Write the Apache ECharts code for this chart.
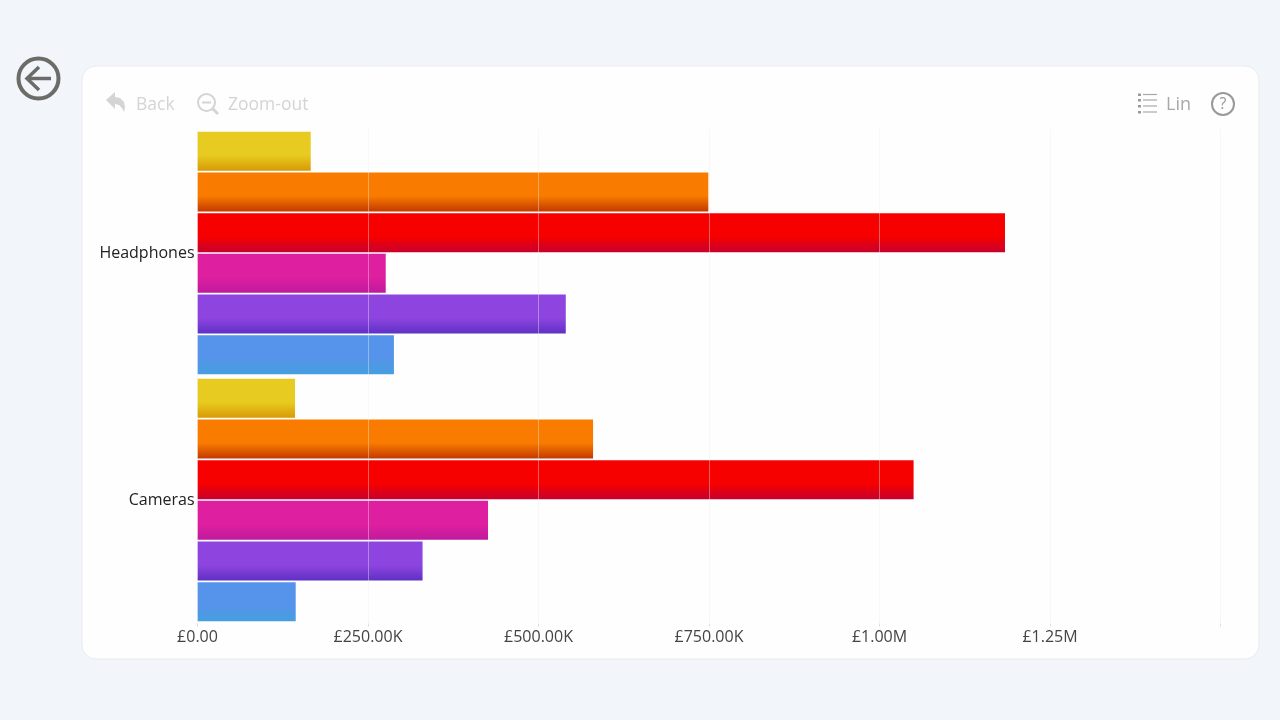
<!DOCTYPE html>
<html>
<head>
<meta charset="utf-8">
<title>Sales by product</title>
<script src="https://cdn.jsdelivr.net/npm/echarts@6/dist/echarts.min.js"></script>
<style>
  html, body { margin: 0; padding: 0; background: #f2f5f9; }
  #chart { width: 1280px; height: 720px; }
</style>
</head>
<body>
<div id="chart"></div>
<script>
// bottom to top, same as the y axis draws them
const categories = ['Cameras', 'Headphones'];

const blueValues = [144000, 288000];
const purpleValues = [330000, 540000];
const pinkValues = [426000, 276000];
const redValues = [1050000, 1184000];
const orangeValues = [580000, 749000];
const yellowValues = [143000, 166000];

const tickLabels = ['£0.00', '£250.00K', '£500.00K', '£750.00K', '£1.00M', '£1.25M', ''];

const uiFont = '"Open Sans", "Noto Sans", sans-serif';

function barFill(top, bottom) {
  return new echarts.graphic.LinearGradient(0, 0, 0, 1, [
    { offset: 0, color: top },
    { offset: 0.6, color: top },
    { offset: 1, color: bottom }
  ]);
}

function barSeries(name, data, top, bottom) {
  return {
    name: name,
    type: 'bar',
    data: data,
    barWidth: 39,
    barGap: '4.4%',
    itemStyle: { color: barFill(top, bottom) },
    silent: true
  };
}

const faint = '#d4d4d4';

const toolbar = [
  // card
  { type: 'rect', z: 0, shape: { x: 82, y: 66, width: 1177, height: 593, r: 14 },
    style: { fill: '#fefefe', stroke: '#e8ebef', lineWidth: 1 } },
  // back circle, top left
  { type: 'circle', shape: { cx: 38.5, cy: 78.5, r: 20 }, style: { fill: 'none', stroke: '#6b6b68', lineWidth: 4 } },
  { type: 'polyline', shape: { points: [[39, 67], [27, 78.5], [39, 90]] }, style: { fill: 'none', stroke: '#6b6b68', lineWidth: 3.5 } },
  { type: 'line', shape: { x1: 28, y1: 78.5, x2: 51, y2: 78.5 }, style: { stroke: '#6b6b68', lineWidth: 3.5 } },
  // Back
  { type: 'polygon', shape: { points: [[106, 100], [115, 92], [115, 97], [120, 98], [124, 102], [125, 107], [124, 112], [122, 108], [119, 105], [115, 104], [115, 109]] }, style: { fill: faint } },
  { type: 'text', style: { x: 136, y: 105, text: 'Back', fill: faint, font: '17.5px ' + uiFont, verticalAlign: 'middle' } },
  // Zoom-out
  { type: 'circle', shape: { cx: 206.5, cy: 102.5, r: 8.5 }, style: { fill: 'none', stroke: faint, lineWidth: 2 } },
  { type: 'line', shape: { x1: 202, y1: 102.5, x2: 211, y2: 102.5 }, style: { stroke: faint, lineWidth: 2 } },
  { type: 'line', shape: { x1: 212.5, y1: 108.5, x2: 218, y2: 114 }, style: { stroke: faint, lineWidth: 3 } },
  { type: 'text', style: { x: 228, y: 105, text: 'Zoom-out', fill: faint, font: '17.5px ' + uiFont, verticalAlign: 'middle' } },
  // Lin
  { type: 'text', style: { x: 1166, y: 105, text: 'Lin', fill: '#a8a8a8', font: '18px ' + uiFont, verticalAlign: 'middle' } }
];

// list icon rows
[94.5, 100, 106, 112].forEach(function (y) {
  toolbar.push({ type: 'rect', shape: { x: 1138, y: y - 1, width: 3, height: 2.5 }, style: { fill: '#9a9a9a' } });
  toolbar.push({ type: 'line', shape: { x1: 1143, y1: y, x2: 1157, y2: y }, style: { stroke: '#a8a8a8', lineWidth: 1.2 } });
});

toolbar.push(
  { type: 'circle', shape: { cx: 1223, cy: 104, r: 11 }, style: { fill: 'none', stroke: '#999999', lineWidth: 2 } },
  { type: 'text', style: { x: 1223, y: 104, text: '?', fill: '#999999', font: '16px ' + uiFont, align: 'center', verticalAlign: 'middle' } }
);

const chart = echarts.init(document.getElementById('chart'), null, { renderer: 'canvas' });

chart.setOption({
  animation: false,
  backgroundColor: '#f2f5f9',
  graphic: { elements: toolbar },
  grid: { left: 197.5, right: 59.5, top: 129.5, bottom: 96.5, containLabel: false },
  xAxis: {
    type: 'value',
    min: 0,
    max: 1500000,
    interval: 250000,
    z: 3,
    axisLine: { show: false },
    axisTick: { show: true, length: 3, lineStyle: { color: '#dddddd' } },
    axisLabel: {
      color: '#444444',
      fontFamily: uiFont,
      fontSize: 16,
      margin: 6,
      formatter: function (value) { return tickLabels[value / 250000]; }
    },
    splitLine: { show: true, lineStyle: { color: 'rgba(238,238,238,0.4)', width: 1 } }
  },
  yAxis: {
    type: 'category',
    data: categories,
    axisLine: { show: false },
    axisTick: { show: false },
    axisLabel: { color: '#222222', fontFamily: uiFont, fontSize: 16, margin: 3, lineHeight: 18, padding: [2, 0, 0, 0] }
  },
  series: [
    barSeries('Yellow', yellowValues, '#e8cb20', '#d89a05'),
    barSeries('Orange', orangeValues, '#f97c00', '#c43a00'),
    barSeries('Red', redValues, '#f60000', '#c8002e'),
    barSeries('Pink', pinkValues, '#de1f9f', '#bf1a9e'),
    barSeries('Purple', purpleValues, '#8e45e0', '#5f30c5'),
    barSeries('Blue', blueValues, '#5594ea', '#459fe0')
  ]
});
</script>
</body>
</html>
